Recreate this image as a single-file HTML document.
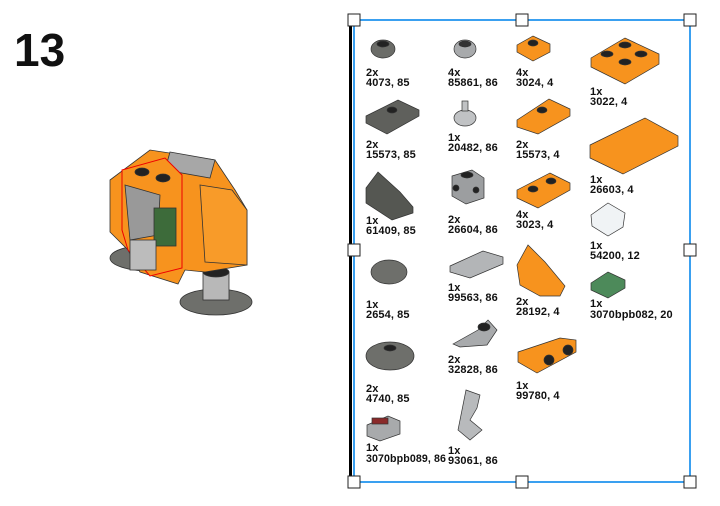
<!DOCTYPE html>
<html><head><meta charset="utf-8"><style>
html,body{margin:0;padding:0;background:#fff;}
svg{display:block}
text{font-family:"Liberation Sans",Arial,sans-serif;font-weight:bold;font-size:11px;fill:#111;letter-spacing:0.1px}
</style></head><body>
<svg width="720" height="506" viewBox="0 0 720 506" xmlns="http://www.w3.org/2000/svg">
<text x="14" y="66" style="font-size:46px;letter-spacing:0">13</text>

<!-- model -->
<g stroke="#333" stroke-width="0.8">
<ellipse cx="150" cy="258" rx="40" ry="13" fill="#6e6f6b"/>
<ellipse cx="216" cy="302" rx="36" ry="13" fill="#6e6f6b"/>
<rect x="203" y="272" width="26" height="28" fill="#b8b8b8"/>
<ellipse cx="216" cy="272" rx="13" ry="5" fill="#222"/>
<polygon points="110,180 150,150 215,160 235,190 247,210 247,265 205,272 185,270 178,284 140,272 128,250 110,232" fill="#f7931e"/>
<polygon points="170,152 215,160 210,178 165,170" fill="#a7a7a7"/>
<polygon points="200,185 232,190 247,210 247,265 205,262" fill="#f89b29"/>
<polygon points="122,170 165,158 182,175 182,268 150,276 128,250 122,230" fill="#f7931e" stroke="#e00" stroke-width="1"/>
<polygon points="125,185 160,195 158,235 130,240" fill="#999"/>
<rect x="154" y="208" width="22" height="38" fill="#3d6b3a"/>
<rect x="130" y="240" width="26" height="30" fill="#bcbcbc"/>
<ellipse cx="142" cy="172" rx="7" ry="4" fill="#222"/>
<ellipse cx="163" cy="178" rx="7" ry="4" fill="#222"/>
</g>

<!-- box -->
<rect x="349" y="18" width="3" height="462" fill="#000"/>
<rect x="354" y="20" width="336" height="462" fill="none" stroke="#3aa0f0" stroke-width="2"/>
<g fill="#fff" stroke="#222" stroke-width="1">
<rect x="348" y="14" width="12" height="12"/><rect x="516" y="14" width="12" height="12"/><rect x="684" y="14" width="12" height="12"/>
<rect x="348" y="244" width="12" height="12"/><rect x="684" y="244" width="12" height="12"/>
<rect x="348" y="476" width="12" height="12"/><rect x="516" y="476" width="12" height="12"/><rect x="684" y="476" width="12" height="12"/>
</g>

<!-- parts -->
<g stroke="#333" stroke-width="0.7">
<ellipse cx="383" cy="49" rx="12" ry="9" fill="#6b6c68"/><ellipse cx="383" cy="44" rx="6" ry="3" fill="#222"/>
<ellipse cx="465" cy="49" rx="11" ry="9" fill="#a8aaac"/><ellipse cx="465" cy="44" rx="6" ry="3" fill="#333"/>
<polygon points="517,45 533,36 550,44 550,52 533,61 517,52" fill="#f7931e"/><ellipse cx="533" cy="43" rx="5" ry="3" fill="#222"/>
<polygon points="591,58 625,38 659,54 659,64 625,84 591,67" fill="#f7931e"/>
<ellipse cx="607" cy="54" rx="6" ry="3" fill="#222"/><ellipse cx="625" cy="45" rx="6" ry="3" fill="#222"/><ellipse cx="641" cy="54" rx="6" ry="3" fill="#222"/><ellipse cx="625" cy="62" rx="6" ry="3" fill="#222"/>

<polygon points="366,116 398,100 419,110 419,116 387,134 366,123" fill="#5f605c"/><ellipse cx="392" cy="110" rx="5" ry="3" fill="#222"/>
<ellipse cx="465" cy="118" rx="11" ry="8" fill="#c0c2c4"/><rect x="462" y="101" width="6" height="10" fill="#c0c2c4"/>
<polygon points="517,120 549,99 570,109 570,116 538,134 517,127" fill="#f7931e"/><ellipse cx="542" cy="110" rx="5" ry="3" fill="#222"/>
<polygon points="590,145 645,118 678,136 678,146 623,174 590,158" fill="#f7931e"/>

<polygon points="366,188 378,172 400,192 413,207 413,213 392,220 366,203" fill="#555752"/>
<polygon points="452,176 472,170 484,178 484,198 466,204 452,196" fill="#9c9ea0"/><ellipse cx="467" cy="175" rx="6" ry="3" fill="#222"/>
<circle cx="456" cy="188" r="3" fill="#222"/><circle cx="476" cy="190" r="3" fill="#222"/>
<polygon points="517,190 550,173 570,183 570,190 538,208 517,198" fill="#f7931e"/><ellipse cx="533" cy="189" rx="5" ry="3" fill="#222"/><ellipse cx="551" cy="181" rx="5" ry="3" fill="#222"/>
<polygon points="591,215 608,203 625,213 623,227 608,236 592,226" fill="#f0f3f5"/>

<ellipse cx="389" cy="272" rx="18" ry="12" fill="#6e6f6b"/>
<polygon points="450,266 483,251 503,257 503,264 470,278 450,272" fill="#b3b5b7"/>
<polygon points="517,265 528,245 545,262 565,286 560,296 540,296 520,285" fill="#f7931e"/>
<polygon points="591,283 608,272 625,280 625,288 608,298 591,290" fill="#4d8a5a"/>

<polygon points="453,344 478,330 488,320 497,330 487,345 460,347" fill="#a8aaac"/><ellipse cx="484" cy="327" rx="6" ry="4" fill="#222"/>
<ellipse cx="390" cy="356" rx="24" ry="14" fill="#6e6f6b"/><ellipse cx="390" cy="348" rx="6" ry="3" fill="#222"/>
<polygon points="518,352 560,338 576,340 576,352 537,373 518,362" fill="#f7931e"/><circle cx="549" cy="360" r="5" fill="#222"/><circle cx="568" cy="350" r="5" fill="#222"/>

<polygon points="367,425 388,416 400,421 400,434 380,441 367,436" fill="#a8aaac"/><rect x="372" y="418" width="16" height="6" fill="#8a2a2a"/>
<polygon points="466,390 480,395 477,408 470,420 482,430 470,440 458,430 462,410" fill="#b8babc"/>
</g>

<text x="366" y="76">2x</text><text x="366" y="86">4073, 85</text>
<text x="366" y="148">2x</text><text x="366" y="158">15573, 85</text>
<text x="366" y="224">1x</text><text x="366" y="234">61409, 85</text>
<text x="366" y="308">1x</text><text x="366" y="318">2654, 85</text>
<text x="366" y="392">2x</text><text x="366" y="402">4740, 85</text>
<text x="366" y="451">1x</text><text x="366" y="462" textLength="80" lengthAdjust="spacingAndGlyphs">3070bpb089, 86</text>

<text x="448" y="76">4x</text><text x="448" y="86">85861, 86</text>
<text x="448" y="141">1x</text><text x="448" y="151">20482, 86</text>
<text x="448" y="223">2x</text><text x="448" y="233">26604, 86</text>
<text x="448" y="291">1x</text><text x="448" y="301">99563, 86</text>
<text x="448" y="363">2x</text><text x="448" y="373">32828, 86</text>
<text x="448" y="454">1x</text><text x="448" y="464">93061, 86</text>

<text x="516" y="76">4x</text><text x="516" y="86">3024, 4</text>
<text x="516" y="148">2x</text><text x="516" y="158">15573, 4</text>
<text x="516" y="218">4x</text><text x="516" y="228">3023, 4</text>
<text x="516" y="305">2x</text><text x="516" y="315">28192, 4</text>
<text x="516" y="389">1x</text><text x="516" y="399">99780, 4</text>

<text x="590" y="95">1x</text><text x="590" y="105">3022, 4</text>
<text x="590" y="183">1x</text><text x="590" y="193">26603, 4</text>
<text x="590" y="249">1x</text><text x="590" y="259">54200, 12</text>
<text x="590" y="307">1x</text><text x="590" y="318">3070bpb082, 20</text>
</svg>
</body></html>
